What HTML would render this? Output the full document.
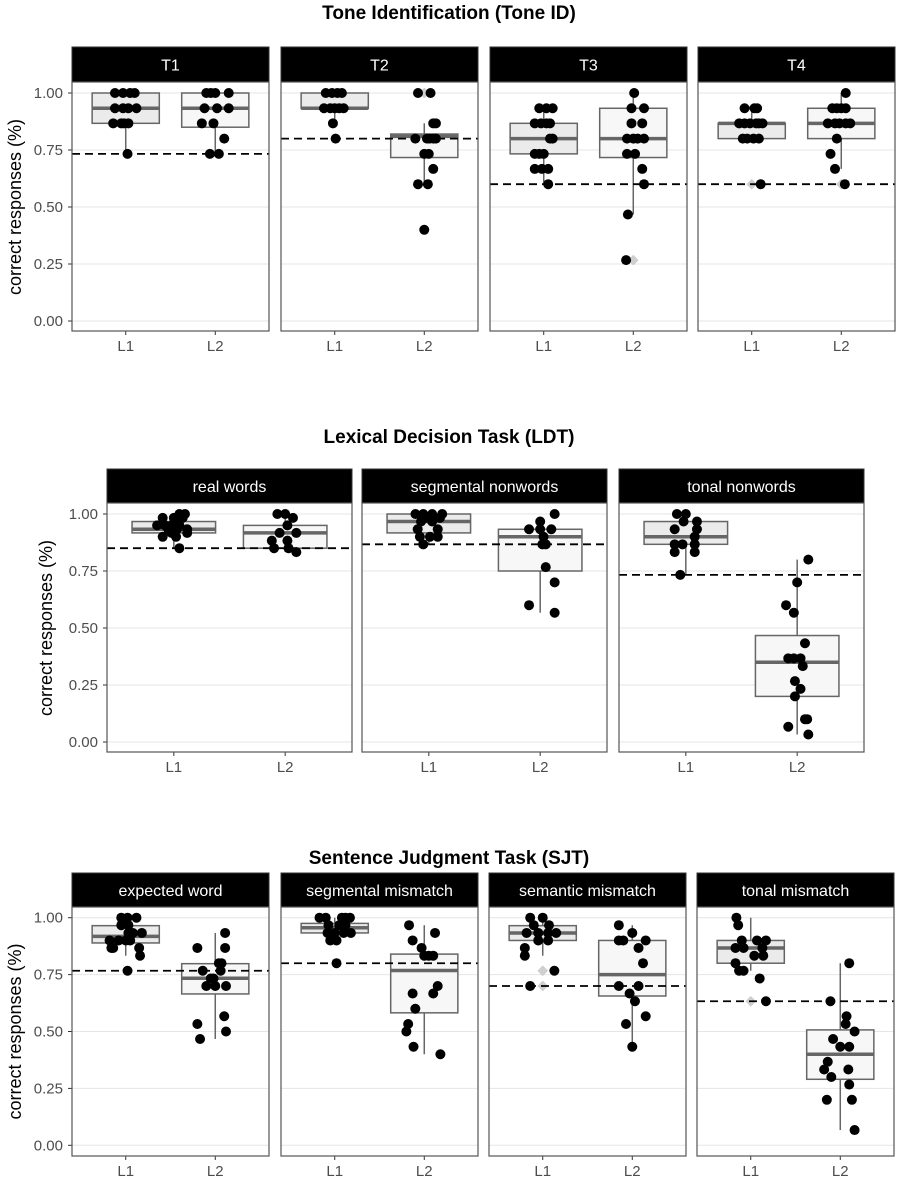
<!DOCTYPE html>
<html><head><meta charset="utf-8"><style>
html,body{margin:0;padding:0;background:#fff;}
svg{display:block;font-family:"Liberation Sans",Arial,sans-serif;}
</style></head><body>
<svg id="chart" width="897" height="1180" viewBox="0 0 897 1180"></svg>
<script>
const groups = ["L1","L2"];
const yTicks = [0, 0.25, 0.5, 0.75, 1.0];
const yTickLabels = ["0.00","0.25","0.50","0.75","1.00"];

const toneTitle = "Tone Identification (Tone ID)";
const toneCats = ["T1","T2","T3","T4"];
const toneChance = [0.733, 0.8, 0.6, 0.6];
const toneBoxes = [
  [[.733,.867,.933,1,1],[.733,.85,.933,1,1]],
  [[.867,.933,.933,1,1],[.6,.717,.81,.82,.867]],
  [[.6,.733,.8,.867,.933],[.467,.717,.8,.933,1]],
  [[.8,.8,.867,.867,.933],[.667,.8,.867,.933,1]]
];
const toneOutliers = [[[],[]],[[],[1]],[[],[.267]],[[.6],[.6]]];
const toneValues = [
  [[1,1,1,1,.933,.933,.933,.933,.867,.867,.867,.867,.733],[1,1,1,1,.933,.933,.933,.867,.867,.8,.733,.733]],
  [[1,1,1,1,.933,.933,.933,.933,.933,.867,.8],[1,1,.867,.867,.8,.8,.8,.8,.8,.733,.733,.667,.6,.6,.4]],
  [[.933,.933,.933,.867,.867,.867,.867,.8,.8,.733,.733,.733,.667,.667,.667,.6],[1,.933,.933,.867,.867,.8,.8,.8,.8,.733,.733,.667,.6,.467,.267]],
  [[.933,.933,.933,.867,.867,.867,.867,.867,.867,.8,.8,.8,.8,.6],[1,.933,.933,.933,.933,.867,.867,.867,.867,.867,.8,.733,.667,.6]]
];
const toneJitter = [
  [[-.12,-.03,.05,.1,-.12,-.03,.03,.12,-.14,-.05,-.02,.03,.02],[-.1,-.05,0,.15,-.12,.02,.15,-.15,-.02,.1,-.06,.04]],
  [[-.1,-.03,.03,.08,-.12,-.05,0,.05,.1,-.02,.01],[-.07,.07,.1,.13,-.1,.03,.06,.1,.13,0,.05,.1,-.07,.04,0]],
  [[-.05,.03,.1,-.1,-.03,.03,.07,.07,.1,-.1,-.05,0,-.1,-.02,.05,.05],[.01,-.02,.12,-.02,.1,-.07,0,.05,.12,-.07,.02,.1,.12,-.06,-.08]],
  [[-.08,.03,.06,-.14,-.08,-.02,.05,.08,.12,-.1,-.05,.02,.08,.1],[.05,-.1,-.05,0,.05,-.15,-.07,-.02,.05,.1,-.05,-.12,-.07,.04]]
];

const ldtTitle = "Lexical Decision Task (LDT)";
const ldtCats = ["real words","segmental nonwords","tonal nonwords"];
const ldtChance = [0.85, 0.867, 0.733];
const ldtBoxes = [
  [[.85,.917,.933,.967,1],[.833,.85,.917,.95,1]],
  [[.867,.917,.967,1,1],[.567,.75,.9,.933,.983]],
  [[.733,.867,.9,.967,1],[.033,.2,.35,.467,.8]]
];
const ldtOutliers = [[[],[]],[[],[]],[[],[]]];
const ldtValues = [
  [[1,1,.983,.983,.983,.967,.95,.95,.95,.95,.933,.933,.933,.917,.917,.9,.9,.85],[1,1,.983,.95,.917,.917,.883,.883,.85,.85,.833]],
  [[1,1,1,1,.983,.983,.983,.967,.967,.933,.933,.9,.9,.9,.867],[1,.967,.933,.933,.933,.9,.867,.867,.767,.7,.6,.567]],
  [[1,1,.967,.967,.933,.933,.9,.867,.867,.867,.833,.833,.733],[.8,.7,.6,.567,.433,.367,.367,.367,.333,.267,.233,.2,.1,.1,.067,.033]]
];
const ldtJitter = [
  [[.05,.1,-.1,0,.08,.03,-.15,-.08,-.02,.05,-.05,.03,.12,-.02,.12,-.1,.02,.05],[-.07,0,.07,.02,-.05,.1,-.12,.02,-.1,.03,.1]],
  [[-.12,-.05,.03,.12,-.03,.05,.1,-.07,.03,-.1,.08,-.08,.01,.08,-.05],[.13,0,-.1,0,.1,.03,.02,.05,.05,.13,-.1,.13]],
  [[-.08,0,-.02,.1,-.1,.1,.08,-.1,-.03,.08,-.1,.08,-.05],[.1,0,-.1,-.03,.07,-.08,-.03,.03,.05,-.02,.03,-.02,.07,.09,-.08,.1]]
];

const sjtTitle = "Sentence Judgment Task (SJT)";
const sjtCats = ["expected word","segmental mismatch","semantic mismatch","tonal mismatch"];
const sjtChance = [0.767, 0.8, 0.7, 0.633];
const sjtBoxes = [
  [[.833,.889,.918,.965,1],[.467,.665,.734,.798,.933]],
  [[.933,.933,.956,.975,1],[.4,.582,.768,.84,.967]],
  [[.833,.9,.933,.965,1],[.433,.656,.75,.9,.967]],
  [[.767,.8,.867,.9,1],[.067,.29,.4,.507,.8]]
];
const sjtOutliers = [[[],[]],[[],[]],[[.767,.7],[]],[[.633],[]]];
const sjtValues = [
  [[1,1,1,.967,.967,.933,.933,.933,.9,.9,.9,.9,.867,.867,.867,.833,.767],[.933,.867,.867,.8,.8,.767,.767,.733,.733,.7,.7,.7,.567,.533,.5,.467]],
  [[1,1,1,1,1,.967,.967,.967,.933,.933,.933,.933,.9,.9,.8],[.967,.933,.9,.867,.833,.833,.833,.7,.667,.667,.6,.533,.5,.433,.4]],
  [[1,1,.967,.967,.933,.933,.933,.933,.9,.9,.867,.833,.767,.7],[.967,.933,.9,.9,.9,.867,.8,.7,.7,.667,.633,.567,.533,.433]],
  [[1,.967,.9,.9,.9,.867,.867,.867,.833,.833,.8,.767,.767,.733,.633],[.8,.633,.567,.533,.5,.467,.433,.433,.367,.333,.333,.3,.267,.2,.2,.067]]
];
const sjtJitter = [
  [[-.05,.02,.12,-.05,.03,.03,.08,.18,-.18,-.08,0,.05,-.16,-.14,.15,.16,.02],[.11,-.2,.11,.04,.07,-.14,.06,-.05,-.02,-.1,0,.12,.1,-.2,.12,-.17]],
  [[-.17,-.1,.08,.12,.17,-.07,.05,.12,-.08,0,.1,.18,-.05,.02,.02],[-.17,.12,-.13,-.03,0,.05,.1,.15,-.13,.1,-.1,-.18,-.2,-.12,.18]],
  [[-.14,0,-.1,.07,-.18,-.05,.06,.15,-.05,.06,-.2,-.2,.13,-.14],[-.15,0,-.15,-.1,.15,.07,.12,-.15,.07,-.03,.03,.15,-.07,0]],
  [[-.16,-.14,-.1,.07,.17,-.17,-.08,.13,.04,.14,-.17,-.13,-.08,.1,.17],[.1,-.11,.07,.06,.16,-.08,0,.1,-.14,-.18,.09,-.1,.1,-.15,.13,.16]]
];

const NS = "http://www.w3.org/2000/svg";
const svg = document.getElementById("chart");
function mk(tag, attrs, parent, text){
  const e = document.createElementNS(NS, tag);
  for (const k in attrs) e.setAttribute(k, attrs[k]);
  if (text !== undefined) e.textContent = text;
  (parent || svg).appendChild(e);
  return e;
}

function drawRow(cfg, title, cats, chance, boxes, outliers, values, jitter, rowName){
  const row = mk("g", {});
  
  
  const yS = v => cfg.y0 - v * (cfg.y0 - cfg.y1);
  const t = mk("text", {x:449, y:cfg.titleY, "text-anchor":"middle", "font-size":19, "font-weight":"bold", fill:"#000"}, row, title);
  
  
  const cy = (cfg.y0 + cfg.y1) / 2;
  const yt = mk("text", {x:cfg.ylabX, y:cy, "text-anchor":"middle", "font-size":18, fill:"#000", transform:"rotate(-90 " + cfg.ylabX + " " + cy + ")", "dominant-baseline":"central"}, row, "correct responses (%)");
  
  
  yTicks.forEach((v, i) => {
    const lab = mk("text", {x:cfg.panelX[0] - 9, y:yS(v) + 5, "text-anchor":"end", "font-size":15, fill:"#4d4d4d"}, row, yTickLabels[i]);
    
    
    mk("line", {x1:cfg.panelX[0] - 4, x2:cfg.panelX[0], y1:yS(v), y2:yS(v), stroke:"#333", "stroke-width":1}, row);
  });
  cats.forEach((cat, p) => {
    const px = cfg.panelX[p], w = cfg.w;
    const unit = w / 2.2;
    const xS = (g, j) => px + (g + 1 - 0.4 + (j || 0)) * unit;
    const pg = mk("g", {}, row);
    
    
    mk("rect", {x:px, y:cfg.plotTop, width:w, height:cfg.plotBottom - cfg.plotTop, fill:"#fff"}, pg);
    yTicks.forEach(v => {
      mk("line", {x1:px, x2:px + w, y1:yS(v), y2:yS(v), stroke:"#e6e6e6", "stroke-width":1}, pg);
    });
    const st = mk("rect", {x:px, y:cfg.stripTop, width:w, height:cfg.plotTop - cfg.stripTop, fill:"#000", stroke:"#333", "stroke-width":1}, pg);
    
    
    const stt = mk("text", {x:px + w / 2, y:(cfg.stripTop + cfg.plotTop) / 2 + 6, "text-anchor":"middle", "font-size":16, fill:"#fff"}, pg, cat);
    
    
    groups.forEach((gname, g) => {
      const b = boxes[p][g];
      const cx = xS(g, 0), bw = 0.75 * unit;
      const bg = mk("g", {}, pg);
      
      
      mk("line", {x1:cx, x2:cx, y1:yS(b[0]), y2:yS(b[1]), stroke:"#666", "stroke-width":1.5}, bg);
      mk("line", {x1:cx, x2:cx, y1:yS(b[3]), y2:yS(b[4]), stroke:"#666", "stroke-width":1.5}, bg);
      mk("rect", {x:cx - bw / 2, y:yS(b[3]), width:bw, height:Math.max(0.5, yS(b[1]) - yS(b[3])), fill:g === 0 ? "#ebebeb" : "#f7f7f7", stroke:"#666", "stroke-width":1.5}, bg);
      mk("line", {x1:cx - bw / 2, x2:cx + bw / 2, y1:yS(b[2]), y2:yS(b[2]), stroke:"#666", "stroke-width":3.5}, bg);
      outliers[p][g].forEach(v => {
        const o = mk("path", {d:"M" + cx + " " + (yS(v) - 5) + " l5 5 l-5 5 l-5 -5 z", fill:"#d0d0d0", stroke:"#c0c0c0", "stroke-width":0.5}, bg);
        
        
      });
    });
    const cl = mk("line", {x1:px, x2:px + w, y1:yS(chance[p]), y2:yS(chance[p]), stroke:"#000", "stroke-width":1.8, "stroke-dasharray":"8 5"}, pg);
    
    
    groups.forEach((gname, g) => {
      values[p][g].forEach((v, i) => {
        const c = mk("circle", {cx:xS(g, jitter[p][g][i]), cy:yS(v), r:5, fill:"#000"}, pg);
        
        
      });
      mk("line", {x1:xS(g, 0), x2:xS(g, 0), y1:cfg.plotBottom, y2:cfg.plotBottom + 4, stroke:"#333", "stroke-width":1}, pg);
      const xl = mk("text", {x:xS(g, 0), y:cfg.plotBottom + 20, "text-anchor":"middle", "font-size":15, fill:"#4d4d4d"}, pg, gname);
      
      
    });
    mk("rect", {x:px, y:cfg.plotTop, width:w, height:cfg.plotBottom - cfg.plotTop, fill:"none", stroke:"#555", "stroke-width":1.2}, pg);
  });
}

drawRow({panelX:[72,281,490,698], w:197, stripTop:47, plotTop:82, plotBottom:331, y1:93, y0:321, titleY:19, ylabX:15},
  toneTitle, toneCats, toneChance, toneBoxes, toneOutliers, toneValues, toneJitter, "tone-id");
drawRow({panelX:[107,362,619], w:245, stripTop:469, plotTop:503, plotBottom:752, y1:514, y0:742, titleY:443, ylabX:46},
  ldtTitle, ldtCats, ldtChance, ldtBoxes, ldtOutliers, ldtValues, ldtJitter, "ldt");
drawRow({panelX:[72,281,489,697], w:197, stripTop:873, plotTop:907, plotBottom:1156, y1:917.7, y0:1145.3, titleY:864, ylabX:15},
  sjtTitle, sjtCats, sjtChance, sjtBoxes, sjtOutliers, sjtValues, sjtJitter, "sjt");
</script>
</body></html>
